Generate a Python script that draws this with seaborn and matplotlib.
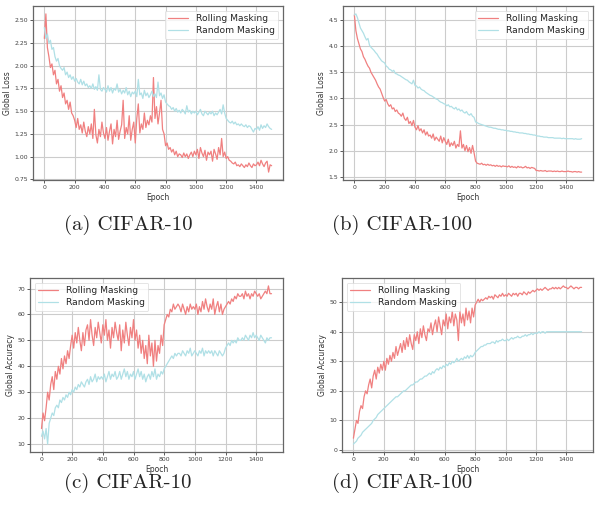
import numpy as np
import pandas as pd
import matplotlib
matplotlib.use("Agg")
import matplotlib.pyplot as plt
import seaborn as sns

epochs = list(range(0, 1501, 10))
methods = ["Rolling Masking", "Random Masking"]
captions = ["(a) CIFAR-10", "(b) CIFAR-100", "(c) CIFAR-10", "(d) CIFAR-100"]
ylabels = ["Global Loss", "Global Loss", "Global Accuracy", "Global Accuracy"]

loss10_rolling = [
    2.30, 2.57, 2.20, 2.10, 1.98, 2.02, 1.90, 1.95, 1.80, 1.85,
    1.72, 1.78, 1.65, 1.70, 1.58, 1.62, 1.52, 1.60, 1.48, 1.45,
    1.40, 1.32, 1.42, 1.30, 1.35, 1.26, 1.38, 1.28, 1.22, 1.33,
    1.25, 1.36, 1.20, 1.52, 1.24, 1.15, 1.30, 1.22, 1.38, 1.26,
    1.20, 1.32, 1.18, 1.28, 1.36, 1.14, 1.30, 1.22, 1.40, 1.19,
    1.28, 1.35, 1.62, 1.20, 1.32, 1.25, 1.45, 1.18, 1.30, 1.38,
    1.15, 1.42, 1.58, 1.26, 1.36, 1.30, 1.48, 1.32, 1.40, 1.35,
    1.45, 1.38, 1.87, 1.42, 1.55, 1.36, 1.48, 1.62, 1.30, 1.25,
    1.12, 1.15, 1.08, 1.10, 1.05, 1.08, 1.02, 1.06, 1.00, 1.03,
    1.02, 0.99, 1.04, 1.00, 1.03, 0.98, 1.02, 1.05, 1.00, 1.06,
    1.02, 1.08, 0.98, 1.10, 1.04, 1.00, 1.07, 0.96, 1.05, 1.02,
    1.06, 0.95, 1.08, 1.03, 0.97, 1.10, 1.02, 1.20, 1.00, 1.05,
    0.98, 1.00, 0.96, 0.95, 0.93, 0.92, 0.94, 0.90, 0.91, 0.89,
    0.92, 0.90, 0.88, 0.91, 0.89, 0.93, 0.90, 0.88, 0.92, 0.90,
    0.91, 0.94, 0.90, 0.96, 0.92, 0.89, 0.93, 0.95, 0.83, 0.91,
    0.90]
loss10_random = [
    2.42, 2.30, 2.35, 2.25, 2.28, 2.18, 2.20, 2.10, 2.05, 2.08,
    2.00, 1.97, 1.95, 1.98, 1.90, 1.93, 1.87, 1.90, 1.85, 1.88,
    1.83, 1.86, 1.82, 1.80, 1.85, 1.79, 1.83, 1.78, 1.80, 1.76,
    1.78, 1.75, 1.80, 1.74, 1.77, 1.73, 1.90, 1.74, 1.72, 1.76,
    1.74, 1.71, 1.78, 1.72, 1.76, 1.70, 1.75, 1.73, 1.80, 1.71,
    1.74, 1.69, 1.73, 1.70, 1.76, 1.68, 1.72, 1.66, 1.71, 1.69,
    1.72, 1.66, 1.85, 1.68, 1.70, 1.64, 1.73, 1.67, 1.70, 1.65,
    1.68, 1.72, 1.66, 1.69, 1.65, 1.82, 1.67, 1.70, 1.64, 1.68,
    1.60, 1.58, 1.56, 1.55, 1.52, 1.54, 1.50, 1.53, 1.49, 1.51,
    1.48, 1.52, 1.50, 1.47, 1.56, 1.49, 1.51, 1.47, 1.50, 1.48,
    1.50, 1.46, 1.49, 1.52, 1.47, 1.45, 1.50, 1.48, 1.46, 1.49,
    1.47, 1.50, 1.45, 1.48, 1.46, 1.49, 1.52, 1.47, 1.57, 1.48,
    1.42, 1.40, 1.38, 1.37, 1.39, 1.36, 1.38, 1.35, 1.36, 1.34,
    1.36, 1.34, 1.33, 1.35, 1.32, 1.34, 1.33, 1.30, 1.27, 1.31,
    1.30, 1.33, 1.29, 1.35, 1.31, 1.34, 1.32, 1.36, 1.33, 1.31,
    1.30]
loss100_rolling = [
    4.60, 4.30, 4.15, 4.05, 3.95, 3.90, 3.80, 3.75, 3.68, 3.62,
    3.58, 3.50, 3.45, 3.40, 3.35, 3.28, 3.22, 3.18, 3.10, 3.02,
    2.95, 2.98, 2.90, 2.85, 2.88, 2.80, 2.82, 2.75, 2.78, 2.72,
    2.70, 2.66, 2.72, 2.62, 2.58, 2.64, 2.52, 2.56, 2.48, 2.58,
    2.45, 2.40, 2.48, 2.38, 2.42, 2.34, 2.40, 2.30, 2.36, 2.28,
    2.30, 2.24, 2.32, 2.20, 2.26, 2.22, 2.18, 2.28, 2.15, 2.25,
    2.18, 2.12, 2.22, 2.08, 2.15, 2.10, 2.18, 2.05, 2.12, 2.08,
    2.38, 2.05, 2.12, 2.00, 2.10, 1.98, 2.06, 1.95, 2.10, 1.96,
    1.80, 1.76, 1.75, 1.74, 1.76, 1.73, 1.74, 1.72, 1.74, 1.72,
    1.73, 1.71, 1.72, 1.70, 1.72, 1.70, 1.71, 1.69, 1.71, 1.70,
    1.70, 1.69, 1.71, 1.68, 1.70, 1.68, 1.69, 1.67, 1.70, 1.68,
    1.69, 1.67, 1.68, 1.70, 1.67, 1.68, 1.66, 1.68, 1.67, 1.66,
    1.62, 1.62, 1.61, 1.62, 1.61, 1.61, 1.62, 1.60, 1.61, 1.61,
    1.61, 1.60, 1.61, 1.60, 1.61, 1.60, 1.60, 1.61, 1.60, 1.60,
    1.60, 1.61, 1.60, 1.60, 1.59, 1.60, 1.60, 1.59, 1.60, 1.59,
    1.59]
loss100_random = [
    4.60, 4.62, 4.55, 4.45, 4.35, 4.30, 4.25, 4.18, 4.12, 4.15,
    4.02, 3.98, 3.95, 3.92, 3.88, 3.85, 3.80, 3.76, 3.72, 3.70,
    3.68, 3.62, 3.60, 3.56, 3.55, 3.52, 3.54, 3.48, 3.47, 3.45,
    3.44, 3.42, 3.40, 3.38, 3.36, 3.35, 3.32, 3.30, 3.28, 3.35,
    3.25, 3.24, 3.20, 3.22, 3.18, 3.16, 3.15, 3.12, 3.10, 3.08,
    3.06, 3.05, 3.03, 3.01, 2.99, 2.98, 2.95, 2.93, 2.92, 2.90,
    2.89, 2.86, 2.88, 2.84, 2.85, 2.82, 2.80, 2.83, 2.78, 2.80,
    2.76, 2.78, 2.74, 2.72, 2.75, 2.70, 2.68, 2.71, 2.66, 2.64,
    2.55, 2.54, 2.52, 2.51, 2.50, 2.49, 2.48, 2.47, 2.46, 2.45,
    2.45, 2.44, 2.43, 2.43, 2.42, 2.41, 2.41, 2.40, 2.40, 2.39,
    2.39, 2.38, 2.38, 2.37, 2.37, 2.36, 2.36, 2.35, 2.35, 2.34,
    2.34, 2.34, 2.33, 2.33, 2.32, 2.32, 2.31, 2.31, 2.30, 2.30,
    2.29, 2.28, 2.28, 2.27, 2.27, 2.26, 2.26, 2.26, 2.25, 2.25,
    2.25, 2.25, 2.24, 2.24, 2.24, 2.24, 2.24, 2.23, 2.24, 2.23,
    2.23, 2.23, 2.23, 2.23, 2.23, 2.22, 2.23, 2.22, 2.22, 2.22,
    2.23]
acc10_rolling = [
    16, 22, 19, 24, 30, 27, 33, 36, 31, 38,
    35, 40, 37, 43, 39, 44, 41, 46, 43, 48,
    52, 47, 53, 49, 55, 50, 46, 53, 48, 54,
    56, 50, 58, 52, 48, 55, 51, 57, 53, 49,
    56, 52, 58, 50, 54, 47, 55, 51, 57, 53,
    50, 56, 46, 54, 49, 57, 52, 48, 55, 51,
    58, 50, 54, 47, 52, 45, 50, 43, 48, 41,
    52, 44, 49, 40, 50, 42, 48, 45, 52, 48,
    56, 58, 60, 59, 62, 61, 64, 62, 63, 64,
    63, 61, 64, 62, 60, 63, 61, 64, 62, 63,
    62, 64, 60, 63, 61, 65, 62, 66, 63, 61,
    64, 62, 66, 60, 63, 65, 61, 64, 60, 62,
    63, 64, 65, 64, 66, 65, 67, 66, 68, 67,
    67, 68, 66, 69, 67, 68, 66, 68, 67, 69,
    68, 67, 68, 66, 67, 68, 69, 68, 71, 68,
    68]
acc10_random = [
    13, 15, 12, 16, 10, 18, 20, 22, 21, 24,
    25, 24, 27, 26, 28, 27, 29, 28, 30, 29,
    31, 30, 32, 31, 33, 32, 34, 33, 32, 34,
    35, 33, 36, 34, 35, 37, 34, 36, 35, 36,
    35, 37, 34, 36, 38, 35, 37, 36, 38, 35,
    36, 38, 35, 37, 39, 36, 38, 35, 37, 36,
    38, 35, 37, 39, 36, 38, 35, 37, 34, 36,
    37, 35, 38, 36, 39, 35, 37, 36, 38, 37,
    39, 40, 41, 42, 43, 44, 43, 45, 44, 45,
    45, 44, 46, 45, 44, 46, 45, 47, 44, 45,
    46, 45, 44, 46, 45, 47, 44, 46, 45, 46,
    45, 46, 44, 46, 45, 44, 46, 45, 44, 45,
    47, 48, 49, 48, 50, 49, 50, 49, 51, 50,
    50, 51, 50, 52, 51, 50, 52, 51, 53, 51,
    52, 51, 50, 52, 51, 50, 49, 51, 50, 51,
    51]
acc100_rolling = [
    4, 7, 10, 9, 13, 15, 14, 18, 20, 19,
    22, 24, 21, 25, 27, 24, 28, 26, 29, 27,
    30, 27, 31, 29, 32, 30, 33, 31, 35, 32,
    34, 36, 33, 37, 34, 38, 35, 39, 36, 34,
    39, 37, 40, 36, 41, 38, 42, 39, 37, 41,
    40, 43, 39, 42, 44, 40, 45, 42, 39, 44,
    42, 46, 41, 45, 43, 47, 42, 46, 44, 37,
    47, 43, 46, 42, 48, 44, 47, 43, 48, 45,
    49, 50, 51, 50, 51, 50.5, 51, 51.5, 51, 52,
    51.5, 52, 51, 52.5, 52, 51.5, 52.5, 52, 53, 52,
    52.5, 52, 53, 52.5, 52, 53, 52.5, 53, 52, 53,
    53, 52.5, 53.5, 53, 52.5, 53.5, 53, 53.5, 54, 53.5,
    54, 54.5, 54, 54.5, 54, 54.5, 55, 54.5, 54, 54.5,
    54.5, 55, 54.5, 55, 54.5, 55, 54.5, 55, 55.5, 55,
    55, 54.5, 55, 55.5, 55, 54.5, 55, 55, 54.5, 55,
    55]
acc100_random = [
    2, 2.5, 3, 4, 4.5, 5, 6, 6.5, 7, 7.5,
    8, 8.5, 9, 10, 10.5, 11, 12, 12.5, 13, 13.5,
    14, 14.5, 15, 15.5, 16, 16.5, 17, 17.5, 18, 18,
    18.5, 19, 19.5, 20, 20, 20.5, 21, 21.5, 22, 22,
    22.5, 23, 23, 23.5, 24, 24, 24.5, 25, 25, 25.5,
    26, 25.5, 26.5, 26, 27, 27.5, 27, 28, 27.5, 28.5,
    28, 29, 28.5, 29.5, 29, 30, 29.5, 30, 31, 30,
    30.5, 31, 30.5, 31.5, 31, 32, 31, 32, 31.5, 32,
    33, 33.5, 34, 34.5, 35, 35, 35.5, 35.5, 36, 36,
    36, 36.5, 36.5, 36, 37, 36.5, 37, 37, 37.5, 37,
    37, 37.5, 37, 37.5, 38, 37.5, 38, 38, 38.5, 38,
    38, 38.5, 38.5, 39, 38.5, 39, 39, 39.5, 39, 39.5,
    39.5, 39.5, 40, 39.5, 40, 40, 39.5, 40, 40, 40,
    40, 40, 40, 40, 40, 40, 40, 40, 40, 40,
    40, 40, 40, 40, 40, 40, 40, 40, 40, 40,
    40]

panels = [
    (loss10_rolling, loss10_random),
    (loss100_rolling, loss100_random),
    (acc10_rolling, acc10_random),
    (acc100_rolling, acc100_random),
]

sns.set_theme(style="whitegrid")
plt.rcParams.update({
    "axes.edgecolor": "0.4",
    "axes.linewidth": 0.9,
    "grid.color": "0.8",
    "grid.linewidth": 0.8,
    "xtick.bottom": True,
    "ytick.left": True,
    "xtick.major.size": 2,
    "ytick.major.size": 2,
    "xtick.major.width": 0.6,
    "ytick.major.width": 0.6,
    "xtick.color": "0.25",
    "ytick.color": "0.25",
})
plt.rcParams["font.family"] = ["DejaVu Sans"]

palette = {"Rolling Masking": "lightcoral", "Random Masking": "powderblue"}

fig = plt.figure(figsize=(5.95, 5.15), dpi=100)
rects = [
    (33 / 595, 1 - 180 / 515, 250 / 595, 174 / 515),
    (343 / 595, 1 - 180 / 515, 250 / 595, 174 / 515),
    (30 / 595, 1 - 452 / 515, 253 / 595, 174 / 515),
    (342 / 595, 1 - 452 / 515, 251 / 595, 174 / 515),
]
legend_locs = ["upper right", "upper right", "upper left", "upper left"]
caption_pos = [(128 / 595, 1 - 225 / 515), (402 / 595, 1 - 225 / 515),
               (128 / 595, 1 - 483 / 515), (402 / 595, 1 - 483 / 515)]

for i, (roll, rand) in enumerate(panels):
    ax = fig.add_axes(rects[i])
    df = pd.DataFrame({
        "Epoch": epochs * 2,
        "value": list(roll) + list(rand),
        "method": [methods[0]] * len(epochs) + [methods[1]] * len(epochs),
    })
    sns.lineplot(data=df, x="Epoch", y="value", hue="method", hue_order=methods,
                 palette=palette, linewidth=0.9, ax=ax, estimator=None)
    ax.set_ylabel(ylabels[i], fontsize=5.5, color="0.2", labelpad=2)
    ax.set_xlabel("Epoch", fontsize=5.5, color="0.2", labelpad=2)
    ax.set_xticks([0, 200, 400, 600, 800, 1000, 1200, 1400])
    ax.tick_params(axis="both", labelsize=4.4, pad=1.5)
    leg = ax.legend(loc=legend_locs[i], fontsize=6.6, frameon=True,
                    handlelength=2.2, borderpad=0.4, labelspacing=0.3)
    leg.get_frame().set_edgecolor("0.85")
    leg.get_frame().set_linewidth(0.6)
    fig.text(caption_pos[i][0], caption_pos[i][1], captions[i],
             fontsize=15, family="cmr10", ha="center", va="center")

fig.savefig("out.png", dpi=100)
